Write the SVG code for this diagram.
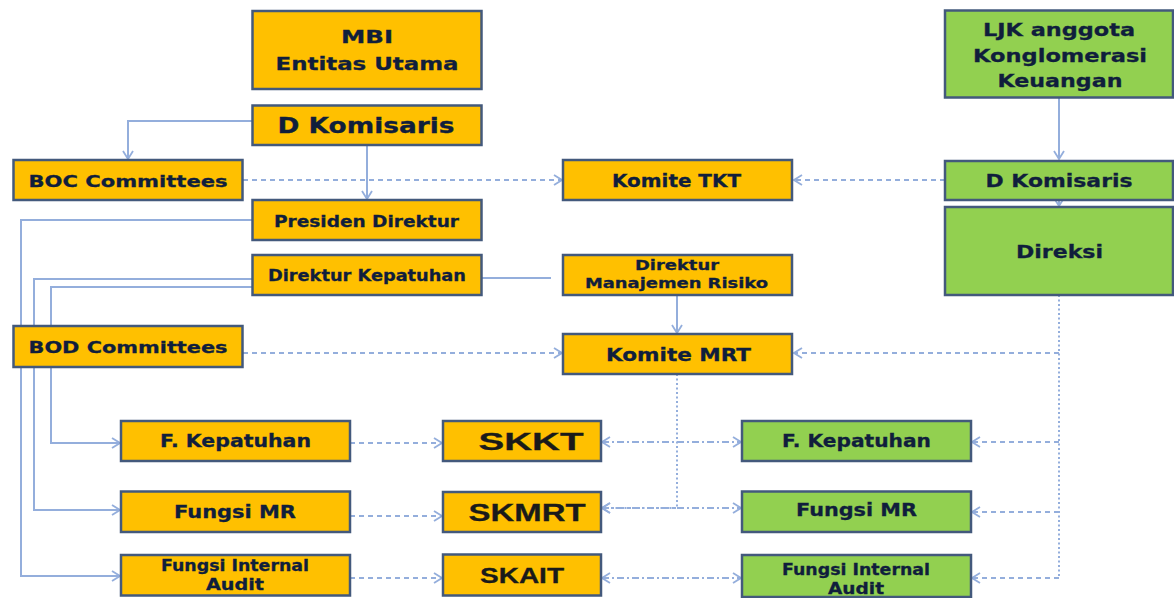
<svg xmlns="http://www.w3.org/2000/svg" width="1174" height="598" viewBox="0 0 1174 598">
<defs>
<style>
.o{fill:#FFC000;stroke:#43597C;stroke-width:2.5}
.g{fill:#92D050;stroke:#43597C;stroke-width:2.5}
.t{font-family:"DejaVu Sans","Liberation Sans",sans-serif;font-weight:bold;fill:#101E3C;stroke:#101E3C;stroke-width:0.3;text-anchor:middle}
.s{font-family:"Liberation Sans",Arial,sans-serif;font-weight:bold;fill:#1A1A1A;stroke:#1A1A1A;stroke-width:0.3;text-anchor:middle}
.c{fill:none;stroke:#94AEDC;stroke-width:2}
.dash{stroke-dasharray:5 4}
.dd{stroke-dasharray:7 3 2 3}
.dot{stroke-dasharray:2 2.5}
</style>
<marker id="a" viewBox="0 0 10 12" refX="9" refY="6" markerWidth="10" markerHeight="12" markerUnits="userSpaceOnUse" orient="auto-start-reverse">
<path d="M1,1 L9,6 L1,11" fill="none" stroke="#94AEDC" stroke-width="1.8"/>
</marker>
</defs>
<rect width="1174" height="598" fill="#FFFFFF"/>
<g id="connectors">
<path class="c" d="M252,121 H128 V159" marker-end="url(#a)"/>
<path class="c" d="M367,145 V199" marker-end="url(#a)"/>
<path class="c dash" d="M243,180 H562" marker-end="url(#a)"/>
<path class="c dash" d="M945,180 H794" marker-end="url(#a)"/>
<path class="c" d="M1059,98 V159" marker-end="url(#a)"/>
<path class="c" d="M1059,200 V206" marker-end="url(#a)"/>
<path class="c" d="M252,220 H21 V576 H120" marker-end="url(#a)"/>
<path class="c" d="M252,279 H34 V510 H120" marker-end="url(#a)"/>
<path class="c" d="M252,287 H51 V443 H120" marker-end="url(#a)"/>
<path class="c" d="M481,278 H551"/>
<path class="c" d="M677,295 V333" marker-end="url(#a)"/>
<path class="c dash" d="M243,353 H562" marker-end="url(#a)"/>
<path class="c dot" d="M1059,295 V578"/>
<path class="c dash" d="M1059,353 H794" marker-end="url(#a)"/>
<path class="c dash" d="M1059,442 H972" marker-end="url(#a)"/>
<path class="c dash" d="M1059,512 H972" marker-end="url(#a)"/>
<path class="c dash" d="M1059,578 H972" marker-end="url(#a)"/>
<path class="c dot" d="M677,374 V508 H602" marker-end="url(#a)"/>
<path class="c dash" d="M350,443 H442" marker-end="url(#a)"/>
<path class="c dash" d="M350,516 H442" marker-end="url(#a)"/>
<path class="c dash" d="M350,578 H442" marker-end="url(#a)"/>
<path class="c dd" d="M602,442 H741" marker-start="url(#a)" marker-end="url(#a)"/>
<path class="c dd" d="M602,508 H741" marker-start="url(#a)" marker-end="url(#a)"/>
<path class="c dd" d="M602,578 H741" marker-start="url(#a)" marker-end="url(#a)"/>
</g>
<g id="mbi">
<rect class="o" x="252.5" y="11" width="229" height="78"/>
<text class="t" x="367" y="43" font-size="18" textLength="52" lengthAdjust="spacingAndGlyphs">MBI</text>
<text class="t" x="367" y="70" font-size="18" textLength="183" lengthAdjust="spacingAndGlyphs">Entitas  Utama</text>
</g>
<g id="dkom-left">
<rect class="o" x="252.5" y="105.5" width="229" height="39.5"/>
<text class="t" x="366" y="133" font-size="21" textLength="177" lengthAdjust="spacingAndGlyphs">D Komisaris</text>
</g>
<g id="boc">
<rect class="o" x="13.5" y="160" width="229" height="40"/>
<text class="t" x="128" y="187" font-size="16.5" textLength="199" lengthAdjust="spacingAndGlyphs">BOC Committees</text>
</g>
<g id="presdir">
<rect class="o" x="252.5" y="200" width="229" height="40"/>
<text class="t" x="366.5" y="227" font-size="16" textLength="185" lengthAdjust="spacingAndGlyphs">Presiden Direktur</text>
</g>
<g id="dirkep">
<rect class="o" x="252.5" y="255" width="229" height="40"/>
<text class="t" x="367" y="281" font-size="15" textLength="198" lengthAdjust="spacingAndGlyphs">Direktur Kepatuhan</text>
</g>
<g id="komite-tkt">
<rect class="o" x="563" y="160" width="229" height="40"/>
<text class="t" x="676.5" y="187" font-size="17.5" textLength="129" lengthAdjust="spacingAndGlyphs">Komite TKT</text>
</g>
<g id="dirmr">
<rect class="o" x="563" y="255" width="229" height="40"/>
<text class="t" x="677" y="270" font-size="14.5" textLength="84" lengthAdjust="spacingAndGlyphs">Direktur</text>
<text class="t" x="676.5" y="288" font-size="14.5" textLength="183" lengthAdjust="spacingAndGlyphs">Manajemen Risiko</text>
</g>
<g id="ljk">
<rect class="g" x="945" y="10.5" width="228" height="87"/>
<text class="t" x="1059" y="36" font-size="18" textLength="152" lengthAdjust="spacingAndGlyphs">LJK anggota</text>
<text class="t" x="1060" y="62" font-size="18" textLength="174" lengthAdjust="spacingAndGlyphs">Konglomerasi</text>
<text class="t" x="1060" y="87" font-size="18" textLength="125" lengthAdjust="spacingAndGlyphs">Keuangan</text>
</g>
<g id="dkom-right">
<rect class="g" x="945" y="161" width="228" height="39"/>
<text class="t" x="1059" y="187" font-size="18" textLength="147" lengthAdjust="spacingAndGlyphs">D Komisaris</text>
</g>
<g id="direksi">
<rect class="g" x="945" y="207" width="228" height="88"/>
<text class="t" x="1059.5" y="258" font-size="18.5" textLength="87" lengthAdjust="spacingAndGlyphs">Direksi</text>
</g>
<g id="bod">
<rect class="o" x="13.5" y="326" width="229" height="41"/>
<text class="t" x="128" y="353" font-size="16.5" textLength="199" lengthAdjust="spacingAndGlyphs">BOD Committees</text>
</g>
<g id="komite-mrt">
<rect class="o" x="563" y="334" width="229" height="40"/>
<text class="t" x="678.5" y="361" font-size="17" textLength="145" lengthAdjust="spacingAndGlyphs">Komite MRT</text>
</g>
<g id="fkep-left">
<rect class="o" x="121" y="421" width="229" height="40"/>
<text class="t" x="235.5" y="447" font-size="17" textLength="151" lengthAdjust="spacingAndGlyphs">F. Kepatuhan</text>
</g>
<g id="fmr-left">
<rect class="o" x="121" y="491.5" width="229" height="40.5"/>
<text class="t" x="235" y="518" font-size="17.5" textLength="122" lengthAdjust="spacingAndGlyphs">Fungsi MR</text>
</g>
<g id="fia-left">
<rect class="o" x="121" y="555" width="229" height="40.5"/>
<text class="t" x="235" y="571" font-size="15" textLength="148" lengthAdjust="spacingAndGlyphs">Fungsi Internal</text>
<text class="t" x="235" y="590" font-size="15" textLength="58" lengthAdjust="spacingAndGlyphs">Audit</text>
</g>
<g id="skkt">
<rect class="o" x="443" y="421" width="158" height="40"/>
<text class="s" x="531" y="450" font-size="23.5" textLength="105" lengthAdjust="spacingAndGlyphs">SKKT</text>
</g>
<g id="skmrt">
<rect class="o" x="443" y="492" width="158" height="40"/>
<text class="s" x="527" y="521" font-size="24" textLength="117" lengthAdjust="spacingAndGlyphs">SKMRT</text>
</g>
<g id="skait">
<rect class="o" x="443" y="554.5" width="158" height="41"/>
<text class="s" x="522" y="583" font-size="21.5" textLength="84" lengthAdjust="spacingAndGlyphs">SKAIT</text>
</g>
<g id="fkep-right">
<rect class="g" x="742" y="421" width="229" height="40"/>
<text class="t" x="856.5" y="447" font-size="17" textLength="149" lengthAdjust="spacingAndGlyphs">F. Kepatuhan</text>
</g>
<g id="fmr-right">
<rect class="g" x="742" y="491.5" width="229" height="40.5"/>
<text class="t" x="856.5" y="516" font-size="18" textLength="121" lengthAdjust="spacingAndGlyphs">Fungsi MR</text>
</g>
<g id="fia-right">
<rect class="g" x="742" y="555" width="229" height="42"/>
<text class="t" x="856" y="575" font-size="15" textLength="148" lengthAdjust="spacingAndGlyphs">Fungsi Internal</text>
<text class="t" x="856" y="594" font-size="15" textLength="56" lengthAdjust="spacingAndGlyphs">Audit</text>
</g>
</svg>
